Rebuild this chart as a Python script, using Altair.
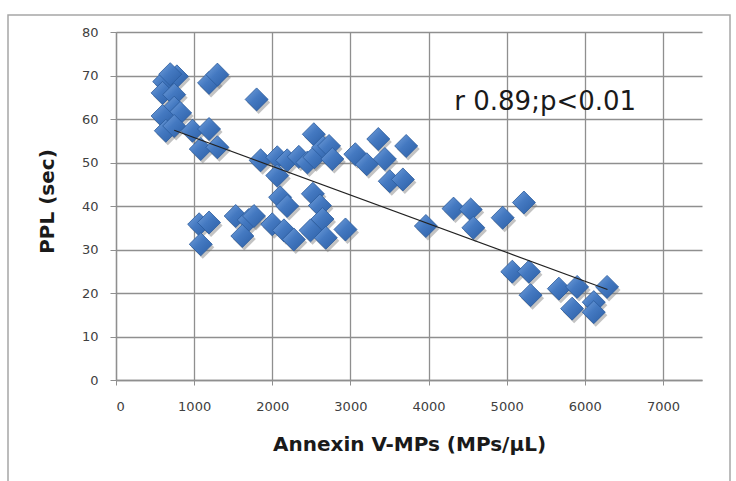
import altair as alt
import pandas as pd

# Annexin V-MPs (MPs/µL) vs PPL (sec)
mp_values = [
    617, 779, 694, 596, 745, 745, 821, 596, 638, 745,
    979, 1191, 1085, 1298, 1191, 1298, 1800,
    1851, 2064, 2064, 2191, 2340, 2450, 2532, 2540, 2650, 2727, 2769,
    3063, 3210, 3357, 3441, 3714, 3504, 3672,
    1064, 1191, 1085, 1532, 1700, 1766, 1617, 2000, 2100, 2191, 2150, 2276,
    2520, 2490, 2610, 2643, 2685, 2937,
    3966, 4320, 4540, 4574, 4949, 5221,
    5072, 5285, 5306, 5668, 5902, 5838, 6115, 6115, 6285,
]
ppl_values = [
    68.6, 69.8, 70.3, 66.0, 65.6, 62.6, 61.4, 60.7, 57.3, 58.4,
    57.3, 57.7, 53.1, 53.5, 68.3, 70.2, 64.5,
    50.5, 51.2, 47.0, 50.5, 51.3, 50.0, 56.5, 51.2, 53.5, 53.8, 50.8,
    51.9, 49.6, 55.4, 50.8, 53.8, 45.7, 46.1,
    35.8, 36.2, 31.2, 37.7, 36.8, 37.7, 33.1, 35.8, 42.0, 40.0, 34.4, 32.3,
    42.8, 34.4, 40.1, 37.0, 32.7, 34.6,
    35.4, 39.4, 39.2, 35.0, 37.3, 40.8,
    24.9, 24.9, 19.5, 21.0, 21.4, 16.4, 17.9, 15.6, 21.4,
]

# trend line end points
trend_x = [745, 6290]
trend_y = [57.4, 20.8]

x_ticks = [0, 1000, 2000, 3000, 4000, 5000, 6000, 7000]
y_ticks = [0, 10, 20, 30, 40, 50, 60, 70, 80]

note_x = [4330]
note_y = [64]
note_text = ["r 0.89;p<0.01"]

pts = pd.DataFrame({"mp": mp_values, "ppl": ppl_values})
trend = pd.DataFrame({"mp": trend_x, "ppl": trend_y})
note = pd.DataFrame({"mp": note_x, "ppl": note_y, "t": note_text})

FONT = "DejaVu Sans"
GRID = "#8f8f8f"

xscale = alt.Scale(domain=[0, 7500], nice=False, zero=True)
yscale = alt.Scale(domain=[0, 80], nice=False)

xaxis = alt.Axis(
    values=x_ticks, format="d", title="Annexin V-MPs (MPs/µL)", grid=True, gridColor=GRID,
    gridWidth=1.3, domainColor=GRID, domainWidth=1.3, tickColor=GRID, tickSize=5,
    labelFont=FONT, labelFontSize=13, labelColor="#404040", labelPadding=15,
    titleFont=FONT, titleFontSize=20, titleFontWeight="bold", titleColor="#1a1a1a",
    titleY=64, titleBaseline="middle",
)
yaxis = alt.Axis(
    values=y_ticks, title="PPL (sec)", grid=True, gridColor=GRID,
    gridWidth=1.3, domainColor=GRID, domainWidth=1.3, tickColor=GRID, tickSize=6,
    labelFont=FONT, labelFontSize=13, labelColor="#404040", labelPadding=12,
    titleFont=FONT, titleFontSize=20, titleFontWeight="bold", titleColor="#1a1a1a",
    titleX=-69, titleY=169, titleBaseline="middle",
)

frame = alt.Chart(pd.DataFrame({"a": [0]})).mark_rect(
    fill=None, stroke="#a6a6a6", strokeWidth=1.5
).encode(
    x=alt.value(-108), x2=alt.value(614), y=alt.value(-17), y2=alt.value(470)
)

shadow = alt.Chart(pts).mark_point(
    shape="diamond", filled=True, size=530, color="#7a7a7a", opacity=0.45,
    xOffset=2, yOffset=3,
).encode(
    x=alt.X("mp:Q", scale=xscale, axis=xaxis),
    y=alt.Y("ppl:Q", scale=yscale, axis=yaxis),
)

diamonds = alt.Chart(pts).mark_point(
    shape="diamond", filled=True, size=530, opacity=1,
    fill=alt.Gradient(
        gradient="linear",
        stops=[
            alt.GradientStop(color="#77A3DD", offset=0),
            alt.GradientStop(color="#4479C1", offset=0.45),
            alt.GradientStop(color="#2B5EA5", offset=1),
        ],
        x1=0, y1=0, x2=1, y2=1,
    ),
    stroke="#2A5A9C", strokeWidth=0.8,
).encode(x="mp:Q", y="ppl:Q")

line = alt.Chart(trend).mark_line(color="#222222", strokeWidth=1.2).encode(
    x="mp:Q", y="ppl:Q"
)

text = alt.Chart(note).mark_text(
    align="left", baseline="middle", font=FONT, fontSize=26, color="#1a1a1a"
).encode(x="mp:Q", y="ppl:Q", text="t:N")

chart = alt.layer(frame, shadow, diamonds, line, text).properties(
    width=586, height=348,
    autosize=alt.AutoSizeParams(type="none"),
    padding={"left": 116, "top": 32, "right": 34, "bottom": 101},
    background="white",
).configure_view(stroke=None)

chart.save("out.html", embed_options={"renderer": "svg", "actions": False})
